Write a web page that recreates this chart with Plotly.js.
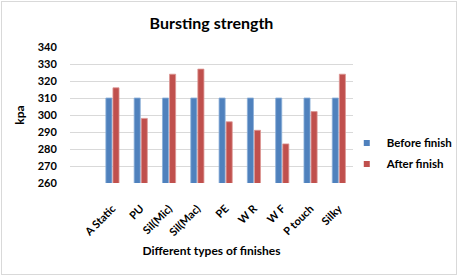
<!DOCTYPE html>
<html><head><meta charset="utf-8">
<script src="https://cdn.plot.ly/plotly-3.0.1.min.js"></script>
<style>
html,body{margin:0;padding:0;background:#fff;}
#wrap{position:relative;width:458px;height:276px;}
#chart{position:absolute;left:0;top:0;width:458px;height:276px;}
#frame{position:absolute;left:1px;top:1px;width:454px;height:272px;border:1px solid #d9d9d9;pointer-events:none;}
</style></head>
<body>
<div id="wrap"><div id="chart"></div><div id="frame"></div></div>
<script>
const categories = ["A Static","PU","Sil(Mic)","Sil(Mac)","PE","W R","W F","P touch","Silky"];
const beforeFinish = [310,310,310,310,310,310,310,310,310];
const afterFinish = [316,298,324,327,296,291,283,302,324];
const yTicks = [260,270,280,290,300,310,320,330,340];
const seriesNames = ["Before finish","After finish"];
const seriesColors = ["#4f81bd","#c0504d"];

const FONT = "Lato, 'Open Sans', sans-serif";
const traces = [
  {type:"bar", name:seriesNames[0], x:categories, y:beforeFinish, showlegend:false,
   marker:{color:seriesColors[0], line:{color:"#8aaed8", width:0.8}}},
  {type:"bar", name:seriesNames[1], x:categories, y:afterFinish, showlegend:false,
   marker:{color:seriesColors[1], line:{color:"#dc9593", width:0.8}}},
  {type:"scatter", mode:"markers", name:seriesNames[0], legendgroup:"a", x:[null], y:[null], showlegend:true,
   marker:{symbol:"square", size:6, color:seriesColors[0]}},
  {type:"scatter", mode:"markers", name:seriesNames[1], legendgroup:"b", x:[null], y:[null], showlegend:true,
   marker:{symbol:"square", size:6, color:seriesColors[1]}}
];
const layout = {
  width:458, height:276,
  margin:{l:70, r:105, t:47, b:93, autoexpand:false},
  paper_bgcolor:"#fff", plot_bgcolor:"#fff",
  font:{family:FONT, color:"#000"},
  title:{text:"Bursting strength", x:0.5, xref:"paper", xanchor:"center", y:0.915, yanchor:"middle",
         font:{size:16, weight:"bold", color:"#000", family:FONT}},
  barmode:"group", bargap:0.5, bargroupgap:0.14,
  xaxis:{type:"category", range:[-1.5,8.5], tickangle:-45, showgrid:false, zeroline:false,
         showline:false, ticks:"outside", ticklen:14, tickcolor:"rgba(0,0,0,0)",
         tickfont:{size:11, weight:"bold", color:"#000"},
         title:{text:"Different types of finishes", font:{size:12, weight:"bold", color:"#000"}, standoff:9}},
  yaxis:{range:[260,340], tickvals:yTicks, showgrid:true, gridcolor:"#d9d9d9", gridwidth:1,
         zeroline:false, showline:false, ticks:"outside", ticklen:10, tickcolor:"rgba(0,0,0,0)",
         tickfont:{size:11, weight:"bold", color:"#000"},
         title:{text:"kpa", font:{size:12, weight:"bold", color:"#000"}, standoff:10}},
  showlegend:true,
  legend:{x:0.978, y:0.217, xanchor:"left", yanchor:"middle", bgcolor:"rgba(0,0,0,0)",
          font:{size:11.5, weight:"bold", color:"#000"}, itemwidth:30, tracegroupgap:2, traceorder:"grouped"}
};
Plotly.newPlot("chart", traces, layout, {displayModeBar:false, staticPlot:true});
</script>
</body></html>
